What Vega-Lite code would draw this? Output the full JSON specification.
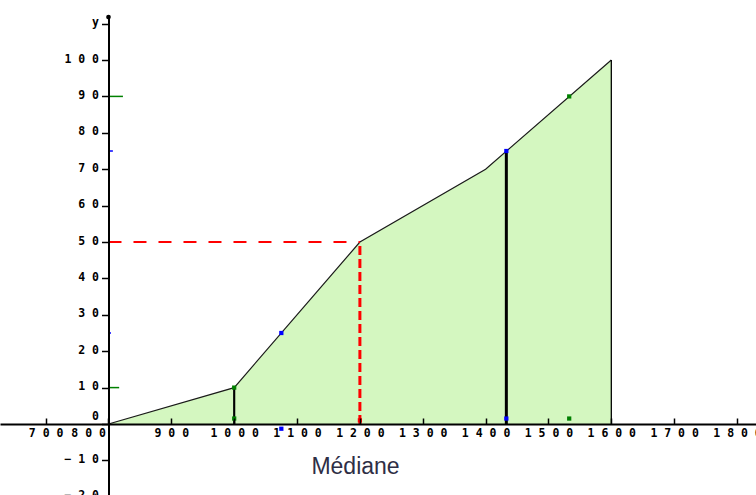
{
  "$schema": "https://vega.github.io/schema/vega-lite/v6.json",
  "width": 756,
  "height": 482,
  "autosize": "none",
  "padding": {"left": 0, "top": 16, "right": 0, "bottom": 0},
  "background": "white",
  "config": {"view": {"stroke": null}, "axis": {"grid": false, "labelOverlap": false}},
  "datasets": {
    "ogive": [
      {"x": 800, "y": 0},
      {"x": 1000, "y": 10},
      {"x": 1200, "y": 50},
      {"x": 1400, "y": 70},
      {"x": 1600, "y": 100}
    ],
    "segments": [
      {"x": 1600, "y": 0, "y2": 100, "kind": "bord"},
      {"x": 1000, "y": 0, "y2": 10, "kind": "D1"},
      {"x": 1433, "y": 0, "y2": 75, "kind": "Q3"}
    ],
    "markers": [
      {"x": 1000, "y": 10, "c": "D"},
      {"x": 1000, "y": 1.5, "c": "D"},
      {"x": 1075, "y": 25, "c": "Q"},
      {"x": 1075, "y": -1.3, "c": "Q"},
      {"x": 1433, "y": 75, "c": "Q"},
      {"x": 1433, "y": 1.5, "c": "Q"},
      {"x": 1533, "y": 90, "c": "D"},
      {"x": 1533, "y": 1.5, "c": "D"},
      {"x": 1200, "y": 1, "c": "M"}
    ],
    "yticks": [
      {"x": 800, "x2": 823, "y": 90, "c": "D"},
      {"x": 800, "x2": 817, "y": 10, "c": "D"},
      {"x": 800, "x2": 807, "y": 75, "c": "Q"},
      {"x": 800, "x2": 804, "y": 25, "c": "Q"}
    ],
    "medh": [{"x": 800, "x2": 1200, "y": 50}],
    "medv": [{"x": 1200, "y": 0, "y2": 50}],
    "top": [{"x": 800, "y": 111.8}]
  },
  "layer": [
    {
      "data": {"name": "ogive"},
      "mark": {"type": "area", "color": "#d4f7c0", "opacity": 1, "line": {"color": "#1a1a1a", "strokeWidth": 1.2}},
      "encoding": {
        "x": {
          "field": "x", "type": "quantitative",
          "scale": {"domain": [627.4, 1830.2], "nice": false, "zero": false},
          "axis": {
            "values": [700, 800, 900, 1000, 1100, 1200, 1300, 1400, 1500, 1600, 1700, 1800],
            "tickCount": 30,
            "format": "d",
            "labelExpr": "join(split(datum.label, ''), ' ')",
            "offset": -74,
            "domainColor": "black", "domainWidth": 2,
            "tickColor": "black", "tickWidth": 1.5, "tickSize": -6,
            "labelPadding": 9,
            "labelFont": "DejaVu Sans Mono", "labelFontWeight": "bold", "labelFontSize": 11.5, "labelColor": "black",
            "labelAlign": {"condition": {"test": "datum.value === 800", "value": "right"}, "value": "center"},
            "labelOffset": {"condition": {"test": "datum.value === 800", "value": -3}, "value": 0},
            "labelFlush": false, "labelOverlap": false,
            "title": "Médiane",
            "titleX": 355, "titleY": 49, "titleBaseline": "alphabetic", "titleAlign": "center",
            "titleFont": "Liberation Sans", "titleFontSize": 23, "titleFontWeight": "normal", "titleColor": "#2e2e45",
            "zindex": 1
          }
        },
        "y": {
          "field": "y", "type": "quantitative",
          "scale": {"domain": [-20.33, 112.09], "nice": false, "zero": false},
          "axis": {
            "values": [-20, -10, 0, 10, 20, 30, 40, 50, 60, 70, 80, 90, 100, 110],
            "tickCount": 30,
            "format": "d",
            "labelExpr": "datum.value === 110 ? 'y' : join(split(datum.label, ''), ' ')",
            "offset": -108.5,
            "domainColor": "black", "domainWidth": 2,
            "tickColor": "black", "tickWidth": 1.5, "tickSize": 7,
            "labelPadding": 3,
            "labelFont": "DejaVu Sans Mono", "labelFontWeight": "bold", "labelFontSize": 11.5, "labelColor": "black",
            "labelOffset": {"condition": {"test": "datum.value === 0", "value": -8}, "value": -1},
            "labelOverlap": false, "labelFlush": false,
            "title": null,
            "zindex": 1
          }
        },
        "y2": {"datum": 0}
      }
    },
    {
      "data": {"name": "segments"},
      "mark": {"type": "rule", "color": "black"},
      "encoding": {
        "x": {"field": "x", "type": "quantitative"},
        "y": {"field": "y", "type": "quantitative"},
        "y2": {"field": "y2"},
        "strokeWidth": {"field": "kind", "type": "nominal", "scale": {"domain": ["bord", "D1", "Q3"], "range": [1.3, 3, 4]}, "legend": null}
      }
    },
    {
      "data": {"name": "medh"},
      "mark": {"type": "rule", "color": "#ff0000", "strokeWidth": 2, "strokeDash": [13, 12]},
      "encoding": {
        "x": {"field": "x", "type": "quantitative"},
        "x2": {"field": "x2"},
        "y": {"field": "y", "type": "quantitative"}
      }
    },
    {
      "data": {"name": "medv"},
      "mark": {"type": "rule", "color": "#ff0000", "strokeWidth": 3, "strokeDash": [9, 4]},
      "encoding": {
        "x": {"field": "x", "type": "quantitative"},
        "y": {"field": "y", "type": "quantitative"},
        "y2": {"field": "y2"}
      }
    },
    {
      "data": {"name": "yticks"},
      "mark": {"type": "rule", "strokeWidth": 1.5},
      "encoding": {
        "x": {"field": "x", "type": "quantitative"},
        "x2": {"field": "x2"},
        "y": {"field": "y", "type": "quantitative"},
        "color": {"field": "c", "type": "nominal", "scale": {"domain": ["D", "Q", "M"], "range": ["#008000", "#0000ff", "#ff0000"]}, "legend": null}
      }
    },
    {
      "data": {"name": "markers"},
      "mark": {"type": "point", "shape": "square", "filled": true, "opacity": 1, "size": 18},
      "encoding": {
        "x": {"field": "x", "type": "quantitative"},
        "y": {"field": "y", "type": "quantitative"},
        "color": {"field": "c", "type": "nominal", "scale": {"domain": ["D", "Q", "M"], "range": ["#008000", "#0000ff", "#ff0000"]}, "legend": null}
      }
    },
    {
      "data": {"name": "top"},
      "mark": {"type": "point", "shape": "circle", "filled": true, "opacity": 1, "size": 22, "color": "black"},
      "encoding": {
        "x": {"field": "x", "type": "quantitative"},
        "y": {"field": "y", "type": "quantitative"}
      }
    },
    {
      "mark": {"type": "rule", "color": "#c4c4c4", "strokeWidth": 2},
      "encoding": {"y": {"datum": 112.09, "type": "quantitative"}}
    }
  ]
}
